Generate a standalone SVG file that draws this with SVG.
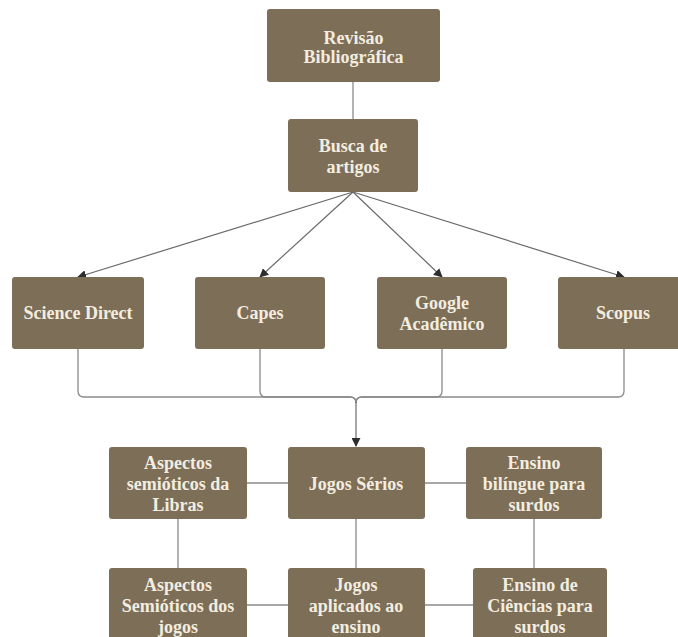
<svg xmlns="http://www.w3.org/2000/svg" width="678" height="637" viewBox="0 0 678 637">
<defs>
<marker id="arr" viewBox="0 0 10 10" refX="9" refY="5" markerWidth="9" markerHeight="9" markerUnits="userSpaceOnUse" orient="auto">
<path d="M0 0 L10 5 L0 10 Z" fill="#2e2e2e"/>
</marker>
<style>
.box{fill:#7d6e57;}
.t{font-family:"Liberation Serif","DejaVu Serif",serif;font-weight:bold;font-size:18px;fill:#f3ede0;text-anchor:middle;}
.c{fill:none;stroke:#8a8a8a;stroke-width:1.3;}
.a{fill:none;stroke:#6a6a6a;stroke-width:1.2;marker-end:url(#arr);}
</style>
</defs>
<rect width="678" height="637" fill="#ffffff"/>
<g id="connectors">
<path class="c" d="M353 82 V119"/>
<path class="a" d="M353 192 L78 277"/>
<path class="a" d="M353 192 L260 277"/>
<path class="a" d="M353 192 L442 277"/>
<path class="a" d="M353 192 L624 277"/>
<path class="c" d="M78 349 V391 Q78 397 84 397 H350 Q356 397 356 403"/>
<path class="c" d="M260 349 V391 Q260 397 266 397 H350 Q356 397 356 403"/>
<path class="c" d="M442 349 V391 Q442 397 436 397 H362 Q356 397 356 403"/>
<path class="c" d="M624 349 V391 Q624 397 618 397 H362 Q356 397 356 403"/>
<path class="a" d="M356 402 V446"/>
<path class="c" d="M247 483 H288"/>
<path class="c" d="M425 483 H466"/>
<path class="c" d="M178 519 V568"/>
<path class="c" d="M356 519 V568"/>
<path class="c" d="M534 519 V568"/>
<path class="c" d="M247 605 H288"/>
<path class="c" d="M425 605 H473"/>
</g>
<g id="revisao"><rect class="box" x="267" y="9" width="173" height="73" rx="3"/><text class="t" x="353.5" y="44">Revisão</text><text class="t" x="353.5" y="63">Bibliográfica</text></g>
<g id="busca"><rect class="box" x="288" y="119" width="130" height="73" rx="3"/><text class="t" x="353" y="152">Busca de</text><text class="t" x="353" y="173">artigos</text></g>
<g id="sciencedirect"><rect class="box" x="12" y="277" width="132" height="72" rx="3"/><text class="t" x="78" y="319">Science Direct</text></g>
<g id="capes"><rect class="box" x="195" y="277" width="130" height="72" rx="3"/><text class="t" x="260" y="319">Capes</text></g>
<g id="google"><rect class="box" x="377" y="277" width="130" height="72" rx="3"/><text class="t" x="442" y="309">Google</text><text class="t" x="442" y="330">Acadêmico</text></g>
<g id="scopus"><rect class="box" x="558" y="277" width="132" height="72" rx="3"/><text class="t" x="623" y="319">Scopus</text></g>
<g id="aspectoslibras"><rect class="box" x="109" y="447" width="138" height="72" rx="3"/><text class="t" x="178" y="469">Aspectos</text><text class="t" x="178" y="490">semióticos da</text><text class="t" x="178" y="511">Libras</text></g>
<g id="jogosserios"><rect class="box" x="288" y="447" width="137" height="72" rx="3"/><text class="t" x="356" y="490">Jogos Sérios</text></g>
<g id="ensinobilingue"><rect class="box" x="466" y="447" width="136" height="72" rx="3"/><text class="t" x="534" y="469">Ensino</text><text class="t" x="534" y="490">bilíngue para</text><text class="t" x="534" y="511">surdos</text></g>
<g id="aspectosjogos"><rect class="box" x="109" y="568" width="138" height="72" rx="3"/><text class="t" x="178" y="591">Aspectos</text><text class="t" x="178" y="612">Semióticos dos</text><text class="t" x="178" y="633">jogos</text></g>
<g id="jogosaplicados"><rect class="box" x="288" y="568" width="137" height="72" rx="3"/><text class="t" x="356" y="591">Jogos</text><text class="t" x="356" y="612">aplicados ao</text><text class="t" x="356" y="633">ensino</text></g>
<g id="ensinociencias"><rect class="box" x="473" y="568" width="134" height="72" rx="3"/><text class="t" x="540" y="591">Ensino de</text><text class="t" x="540" y="612">Ciências para</text><text class="t" x="540" y="633">surdos</text></g>
</svg>
